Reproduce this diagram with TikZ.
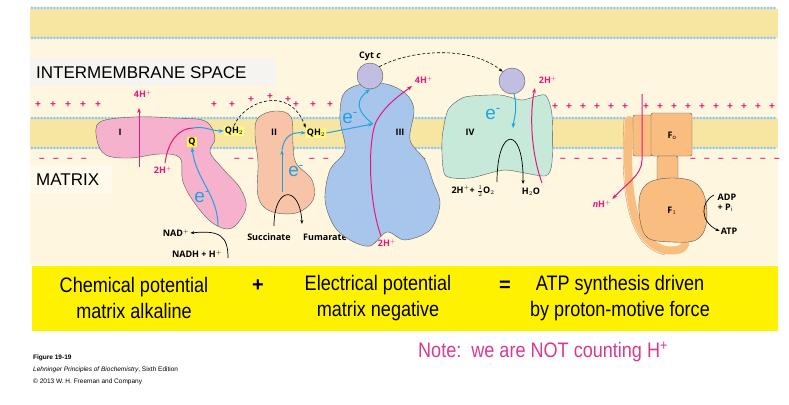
\documentclass[tikz,border=0pt]{standalone}
\usepackage{fontspec}
\setmainfont{Liberation Sans}
\newfontfamily\hel{Open Sans}
\newfontfamily\narrow[FakeStretch=0.86]{Liberation Sans}
\usetikzlibrary{arrows.meta}
\definecolor{cream}{HTML}{FFF6DF}
\definecolor{memb}{HTML}{F7E6A2}
\definecolor{bead}{HTML}{8FC8EE}
\definecolor{pk}{HTML}{E5177A}
\definecolor{cy}{HTML}{1FA3E0}
\definecolor{cI}{HTML}{F6B2CD}
\definecolor{cII}{HTML}{F8C4A8}
\definecolor{cIII}{HTML}{A8C6EC}
\definecolor{cIV}{HTML}{C6E9DA}
\definecolor{cyt}{HTML}{C2BEE2}
\definecolor{atp}{HTML}{F9BD80}
\definecolor{notec}{HTML}{D93A90}
\newcommand\eminus{e\textsuperscript{-}}
\tikzset{
 prot/.style={draw=gray!70!black,line width=0.4pt},
 lab/.style={font=\hel\bfseries\fontsize{9}{10}\selectfont,inner sep=1pt},
 pkl/.style={lab,text=pk},
 el/.style={font=\fontsize{19}{19}\selectfont,text=cy,inner sep=0pt},
 cyarr/.style={cy,line width=1pt,-{Stealth[length=5pt]}},
 pkarr/.style={pk,line width=1pt,-{Stealth[length=5pt]}},
 bkarr/.style={black,line width=0.7pt,-{Stealth[length=4pt]}},
 sign/.style={text=pk,font=\bfseries\fontsize{10}{10}\selectfont,inner sep=0pt},
 big/.style={font=\narrow\fontsize{21}{26}\selectfont,inner sep=0pt,align=center},
}
\begin{document}
\begin{tikzpicture}[x=1pt,y=-1pt]
\useasboundingbox (0,0) rectangle (789,404);
\fill[white] (0,0) rectangle (789,404);
\fill[cream] (30,8) rectangle (778,265);
% membranes
\fill[memb] (30,9) rectangle (778,38);
\fill[memb] (30,118) rectangle (778,148);
\foreach \y in {8,38,118,148}
  \foreach \x in {32,35.2,...,777} \fill[bead] (\x,\y) circle (1.5pt);
% labels
\node[fill=cream!70!gray!25,minimum width=246pt,minimum height=28pt,anchor=north west,inner sep=0pt] (ims) at (30,58) {};
\node[anchor=west,font=\fontsize{17}{17}\selectfont,inner sep=0pt] (imst) at (36,73) {INTERMEMBRANE SPACE};
\node[fill=cream!60!white,minimum width=82pt,minimum height=28pt,anchor=north west,inner sep=0pt] (mx) at (30,165) {};
\node[anchor=west,font=\fontsize{17}{17}\selectfont,inner sep=0pt] (mxt) at (36,180) {MATRIX};
% signs
\foreach \x in {38,53,68,83,98,214,232,296,313,330} \node[sign] at (\x,105) {+};
\foreach \x/\y in {251/100,270/97,288/100} \node[sign] at (\x,\y) {+};
\foreach \x in {513,527,541,555,569,583,597,611,625,646,660,674,688,702,716,730,744,758,772} \node[sign] at (\x,107) {+};
\foreach \x in {42,56,70,84,237,251,312,326,423,563,577,591,605,619,693,707,721,735,749,763,777} \node[sign] at (\x,160) {--};
% Complex I
\draw[prot,fill=cI] plot[smooth cycle,tension=0.6] coordinates {(100,122)(135,117)(172,118)(205,121)(215,138)(210,152)(224,170)(240,188)(246,208)(232,228)(214,224)(196,205)(183,182)(180,158)(160,154)(130,158)(106,155)(97,140)};
\node[lab] (cI) at (120,132) {I};
\node[lab,fill=yellow!70] (Q) at (192,142) {Q};
\node[lab,fill=yellow!50] (qh1) at (234,131) {QH$_2$};
\node[pkl] (h4a) at (143,94) {4H$^+$};
\coordinate (h4s) at (139,167);
\draw[pkarr] (h4s) -- (139,108);
\node[pkl] (h2a) at (163,170) {2H$^+$};
\draw[pk,line width=1pt] (165,163) .. controls (168,140) and (180,128) .. (193,128);
\draw[cyarr] (193,128) .. controls (205,126) and (212,131) .. (qh1.west);
\draw[cyarr] (218,226) .. controls (218,195) and (196,180) .. (Q.south);
\node[el] (e1) at (202,197) {\eminus};
\node[lab] (nad) at (176,233) {NAD$^+$};
\node[lab] (nadh) at (197,254) {NADH + H$^+$};
\draw[bkarr] (228,258) .. controls (228,236) and (220,230) .. (nad.east);
% Complex II
\draw[prot,fill=cII] plot[smooth cycle,tension=0.6] coordinates {(258,118)(275,111)(291,117)(293,145)(296,163)(312,180)(313,200)(296,213)(270,211)(258,196)(258,162)(255,135)};
\node[lab] (cII) at (274,132) {II};
\node[lab,fill=yellow!50] (qh2) at (316,133) {QH$_2$};
\node[el] (e2) at (296,171) {\eminus};
\draw[cyarr] (282,192) -- (282,150);
\draw[cyarr] (282,150) .. controls (284,136) and (292,132) .. (qh2.west);
\node[lab] (succ) at (269,237) {Succinate};
\node[lab] (fum) at (325,237) {Fumarate};
\draw[bkarr] (274,226) .. controls (274,185) and (300,185) .. (302,224);
\draw[densely dashed,line width=0.6pt,-{Stealth[length=4pt]}] (qh1.north) .. controls (245,100) and (290,85) .. (qh2.north west);
% Complex III
\draw[prot,fill=cIII] plot[smooth cycle,tension=0.55] coordinates {(343,95)(358,85)(386,84)(406,94)(414,110)(410,140)(425,160)(433,182)(440,204)(430,230)(405,240)(387,232)(370,246)(350,240)(334,226)(325,200)(330,170)(345,150)(340,120)};
\node[lab] (cIII) at (400,132) {III};
\node[draw=gray!70!black,fill=cyt,circle,minimum size=26pt,inner sep=0pt] (cyt1) at (370,76) {};
\node[lab] (cytl) at (370,56) {Cyt \textit{c}};
\node[el] (e3) at (350,118) {\eminus};
\draw[cyarr] (qh2.east) -- (373,124);
\draw[cyarr] (373,124) .. controls (355,110) and (356,100) .. (cyt1.south);
\node[pkl] (h2c) at (387,243) {2H$^+$};
\draw[pkarr] (381,236) .. controls (368,200) and (368,140) .. (376,122) .. controls (385,105) and (400,95) .. (412,86);
\node[pkl] (h4b) at (424,80) {4H$^+$};
% Complex IV
\draw[prot,fill=cIV] plot[smooth cycle,tension=0.4] coordinates {(448,110)(465,97)(500,95)(522,100)(545,95)(552,115)(552,162)(545,176)(505,170)(470,178)(445,175)(442,140)};
\node[lab] (cIV) at (470,132) {IV};
\node[draw=gray!70!black,fill=cyt,circle,minimum size=26pt,inner sep=0pt] (cyt2) at (512,81) {};
\draw[densely dashed,line width=0.6pt,-{Stealth[length=4pt]}] (cyt1.north east) .. controls (410,50) and (470,45) .. (cyt2.north west);
\node[el] (e4) at (493,114) {\eminus};
\draw[cyarr] (514,94) .. controls (518,108) and (514,118) .. (513,128);
\node[lab] (o2) at (473,191) {2H$^+$+ $\frac{1}{2}$O$_2$};
\node[lab] (h2o) at (531,192) {H$_2$O};
\draw[bkarr] (497,182) .. controls (497,125) and (524,125) .. (523,184);
\draw[pkarr] (542,183) .. controls (530,150) and (530,110) .. (535,88);
\node[pkl] (h2d) at (548,80) {2H$^+$};
% ATP synthase
\draw[atp,line width=8pt,line cap=round] (629,120) .. controls (626,180) and (628,240) .. (665,250) .. controls (680,252) and (688,248) .. (684,238);
\draw[atp!80!black,line width=0.4pt] (624,118) .. controls (621,180) and (623,246) .. (665,255);
\draw[prot,fill=atp,rounded corners=2pt] (633,115) rectangle (652,156);
\draw[prot,fill=atp,rounded corners=2pt] (651,113) rectangle (692,156);
\draw[prot,fill=atp,rounded corners=2pt] (657,156) rectangle (678,181);
\draw[prot,fill=atp] plot[smooth cycle,tension=0.6] coordinates {(650,182)(672,178)(694,182)(705,198)(706,225)(696,240)(672,242)(648,238)(640,220)(640,195)};
\node[lab] (Fo) at (672,136) {F$_{\mathrm{o}}$};
\node[lab] (F1) at (672,211) {F$_1$};
\node[pkl] (nh) at (602,204) {\textit{n}H$^+$};
\draw[pkarr] (642,94) -- (642,160) .. controls (642,175) and (625,185) .. (nh.north east);
\node[lab,align=left] (adp) at (727,203) {ADP\\+ P$_{\mathrm{i}}$};
\node[lab] (atpl) at (729,231) {ATP};
\draw[bkarr] (714,195) .. controls (700,202) and (700,222) .. (atpl.west);
% yellow box
\fill[yellow] (32,266) rectangle (778,331);
\node[big] (t1) at (134,298) {Chemical potential\\matrix alkaline};
\node[big,font=\bfseries\fontsize{20}{21}\selectfont] (pl) at (258,286) {+};
\node[big] (t2) at (378,298) {Electrical potential\\matrix negative};
\node[big,font=\bfseries\fontsize{20}{21}\selectfont] (eq) at (505,286) {=};
\node[big] (t3) at (620,298) {ATP synthesis driven\\by proton-motive force};
\node[anchor=west,text=notec,font=\narrow\fontsize{21}{21}\selectfont,inner sep=0pt] (note) at (418,352) {Note:\ \ we are NOT counting H\textsuperscript{+}};
% caption
\node[anchor=west,inner sep=0pt,font=\bfseries\fontsize{6.5}{7}\selectfont] (fig) at (33,358) {Figure 19-19};
\node[anchor=west,inner sep=0pt,font=\fontsize{6.5}{7}\selectfont] (c2) at (33,370) {\textit{Lehninger Principles of Biochemistry}, Sixth Edition};
\node[anchor=west,inner sep=0pt,font=\fontsize{6.5}{7}\selectfont] (c3) at (33,382) {© 2013 W. H. Freeman and Company};
\end{tikzpicture}
\end{document}
